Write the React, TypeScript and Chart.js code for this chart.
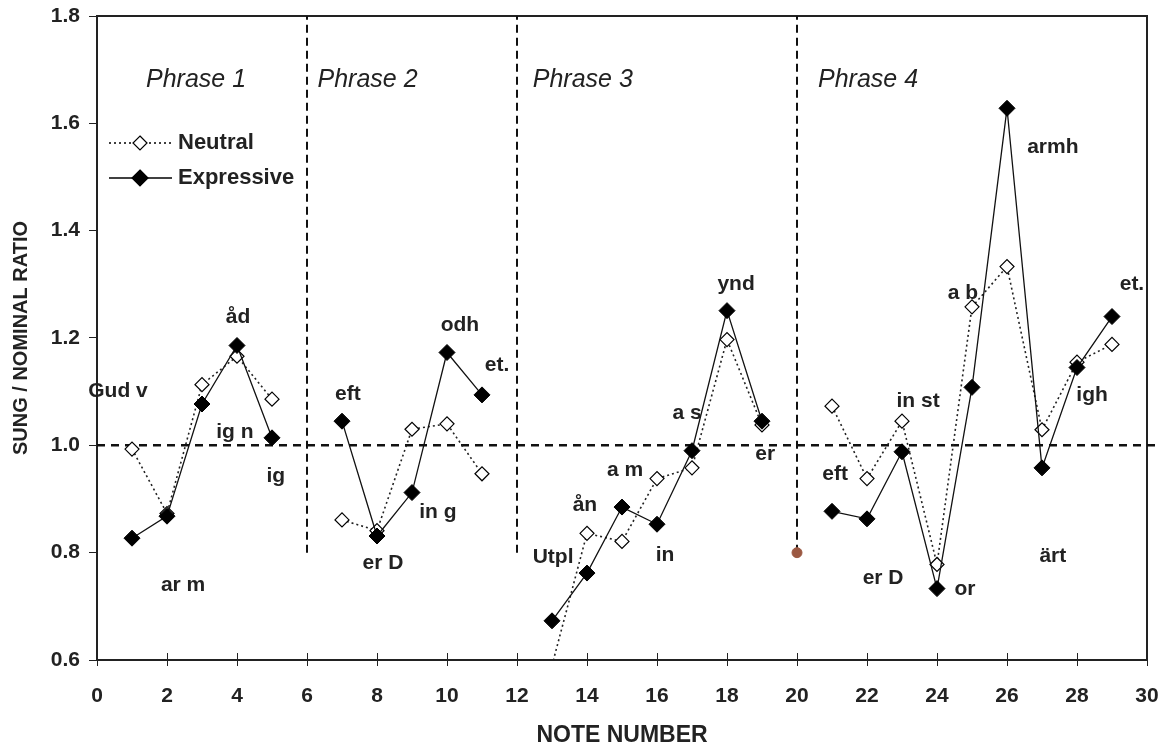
import React, { useEffect, useRef } from "react";
import { Chart, registerables } from "chart.js";

Chart.register(...registerables);

// ---------- data ----------
const noteNumbers = [
  1, 2, 3, 4, 5, 6, 7, 8, 9, 10, 11, 12, 13, 14, 15, 16, 17, 18, 19, 20, 21, 22, 23, 24, 25, 26, 27, 28, 29,
];
const neutral: (number | null)[] = [
  0.993, 0.873, 1.113, 1.166, 1.086, null, 0.861, 0.841, 1.03, 1.04, 0.947, null, 0.59, 0.836, 0.821, 0.938,
  0.958, 1.197, 1.038, null, 1.073, 0.938, 1.045, 0.778, 1.258, 1.333, 1.029, 1.155, 1.188,
];
const expressive: (number | null)[] = [
  0.827, 0.868, 1.077, 1.186, 1.014, null, 1.045, 0.831, 0.912, 1.173, 1.094, null, 0.673, 0.762, 0.885, 0.853,
  0.99, 1.251, 1.045, null, 0.877, 0.863, 0.988, 0.733, 1.108, 1.628, 0.958, 1.145, 1.24,
];
const phraseBoundaries = [6, 12, 20];
const boundaryRange = [0.8, 1.8];
const referenceRatio = 1.0;
const referenceSpan = [0, 30.35];
const phraseNames = ["Phrase 1", "Phrase 2", "Phrase 3", "Phrase 4"];
const phraseLabelX = [1.4, 6.3, 12.45, 20.6];
const phraseLabelY = 1.68;
const syllableText = [
  "Gud v", "ar m", "ig n", "åd", "ig",
  "eft", "er D", "in g", "odh", "et.",
  "Utpl", "ån", "a m", "in", "a s", "ynd", "er",
  "eft", "er D", "in st", "or", "a b", "armh", "ärt", "igh", "et.",
];
const syllableX = [
  0.6, 2.46, 3.94, 4.03, 5.11,
  7.17, 8.17, 9.74, 10.37, 11.43,
  13.03, 13.94, 15.09, 16.23, 16.86, 18.26, 19.09,
  21.09, 22.46, 23.46, 24.8, 24.74, 27.31, 27.31, 28.43, 29.57,
];
const syllableY = [
  1.1, 0.74, 1.025, 1.238, 0.943,
  1.096, 0.78, 0.876, 1.223, 1.149,
  0.792, 0.889, 0.954, 0.796, 1.059, 1.3, 0.983,
  0.947, 0.753, 1.083, 0.732, 1.283, 1.555, 0.794, 1.094, 1.3,
];
const yTicks = { min: 0.6, max: 1.8, step: 0.2 };
const xTicks = { min: 0, max: 30, step: 2 };

const FONT = '"Liberation Sans", Arial, Helvetica, sans-serif';

const overlayPlugin = {
  id: "overlay",
  afterDraw(chart: any) {
    const { ctx, chartArea, scales } = chart;
    const xs = scales.x;
    const ys = scales.y;
    ctx.save();
    // x tick marks crossing the axis
    ctx.strokeStyle = "#222";
    ctx.lineWidth = 1;
    xs.ticks.forEach((t: any) => {
      const px = Math.round(xs.getPixelForValue(t.value)) + 0.5;
      ctx.beginPath();
      ctx.moveTo(px, chartArea.bottom - 7);
      ctx.lineTo(px, chartArea.bottom + 6);
      ctx.stroke();
    });
    // phrase labels
    ctx.fillStyle = "#222";
    ctx.font = `italic 25px ${FONT}`;
    ctx.textAlign = "left";
    ctx.textBaseline = "middle";
    phraseNames.forEach((name, i) => {
      ctx.fillText(name, xs.getPixelForValue(phraseLabelX[i]), ys.getPixelForValue(phraseLabelY));
    });
    // syllable labels
    ctx.font = `bold 21px ${FONT}`;
    ctx.textAlign = "center";
    syllableText.forEach((s, i) => {
      ctx.fillText(s, xs.getPixelForValue(syllableX[i]), ys.getPixelForValue(syllableY[i]));
    });
    // legend
    const lx = chartArea.left + 12;
    const rows = [
      { label: "Neutral", y: 143, dash: [2, 3], fill: "#fff", r: 7 },
      { label: "Expressive", y: 178, dash: [], fill: "#000", r: 8 },
    ];
    rows.forEach((row) => {
      ctx.strokeStyle = "#000";
      ctx.lineWidth = 1.5;
      ctx.setLineDash(row.dash);
      ctx.beginPath();
      ctx.moveTo(lx, row.y);
      ctx.lineTo(lx + 63, row.y);
      ctx.stroke();
      ctx.setLineDash([]);
      const cx = lx + 31;
      ctx.beginPath();
      ctx.moveTo(cx, row.y - row.r);
      ctx.lineTo(cx + row.r, row.y);
      ctx.lineTo(cx, row.y + row.r);
      ctx.lineTo(cx - row.r, row.y);
      ctx.closePath();
      ctx.fillStyle = row.fill;
      ctx.fill();
      ctx.lineWidth = 1.2;
      ctx.stroke();
      ctx.fillStyle = "#222";
      ctx.font = `bold 22px ${FONT}`;
      ctx.textAlign = "left";
      ctx.fillText(row.label, lx + 69, row.y);
    });
    ctx.restore();
  },
};

const noPad = (s: any) => {
  s.paddingLeft = 0;
  s.paddingRight = 0;
  s.paddingTop = 0;
  s.paddingBottom = 0;
};

export default function App() {
  const ref = useRef<HTMLCanvasElement>(null);
  useEffect(() => {
    const canvas = ref.current;
    if (!canvas) return;
    const pts = (vals: (number | null)[]) => noteNumbers.map((n, i) => ({ x: n, y: vals[i] }));
    const datasets: any[] = [
      {
        label: "Expressive",
        data: pts(expressive),
        borderColor: "#111",
        borderWidth: 1.3,
        pointStyle: "rectRot",
        pointRadius: 8,
        pointBackgroundColor: "#000",
        pointBorderColor: "#000",
        pointBorderWidth: 1,
        spanGaps: false,
        order: 0,
      },
      {
        label: "Neutral",
        data: pts(neutral),
        borderColor: "#222",
        borderWidth: 1.6,
        borderDash: [2, 3],
        pointStyle: "rectRot",
        pointRadius: (c: any) => (c.raw && c.raw.y < yTicks.min ? 0 : 7),
        pointBackgroundColor: "#fff",
        pointBorderColor: "#000",
        pointBorderWidth: 1.2,
        spanGaps: false,
        order: 1,
      },
      {
        label: "ref",
        data: referenceSpan.map((x) => ({ x, y: referenceRatio })),
        borderColor: "#111",
        borderWidth: 2.5,
        borderDash: [8, 6],
        pointRadius: 0,
        clip: false,
        order: 3,
      },
      ...phraseBoundaries.map((b) => ({
        label: "boundary",
        data: boundaryRange.map((y) => ({ x: b, y })),
        borderColor: "#111",
        borderWidth: 2,
        borderDash: [8, 5],
        pointRadius: 0,
        order: 3,
      })),
      {
        label: "dot",
        data: [{ x: phraseBoundaries[2], y: boundaryRange[0] }],
        showLine: false,
        pointRadius: 5,
        pointBackgroundColor: "#9b5842",
        pointBorderColor: "#9b5842",
        order: 2,
      },
    ];
    const chart = new Chart(canvas, {
      type: "line",
      data: { datasets },
      plugins: [overlayPlugin],
      options: {
        animation: false,
        responsive: false,
        layout: { padding: { left: 0, right: 16, top: 16, bottom: 0 } },
        plugins: { legend: { display: false }, tooltip: { enabled: false } },
        scales: {
          x: {
            type: "linear",
            min: xTicks.min,
            max: xTicks.max,
            ticks: {
              stepSize: xTicks.step,
              padding: 24,
              color: "#222",
              font: { family: FONT, size: 21, weight: "bold" },
              maxRotation: 0,
            },
            grid: { drawOnChartArea: false, drawTicks: false },
            border: { color: "#222", width: 2 },
            title: {
              display: true,
              text: "NOTE NUMBER",
              color: "#222",
              font: { family: FONT, size: 23, weight: "bold" },
              padding: { top: 0, bottom: 0 },
            },
            afterFit: (s: any) => {
              s.height = 89;
              noPad(s);
            },
          },
          x2: {
            type: "linear",
            position: "top",
            min: xTicks.min,
            max: xTicks.max,
            ticks: { display: false },
            grid: { drawOnChartArea: false, drawTicks: false },
            border: { color: "#222", width: 2 },
            afterFit: (s: any) => {
              s.height = 0;
              noPad(s);
            },
          },
          y: {
            type: "linear",
            min: yTicks.min,
            max: yTicks.max,
            ticks: {
              stepSize: yTicks.step,
              padding: 9,
              color: "#222",
              font: { family: FONT, size: 21, weight: "bold" },
              callback: (v: any) => Number(v).toFixed(1),
            },
            grid: { drawOnChartArea: false, drawTicks: true, tickLength: 8, color: "#222" },
            border: { color: "#222", width: 2 },
            title: {
              display: true,
              text: "SUNG / NOMINAL RATIO",
              color: "#222",
              font: { family: FONT, size: 20, weight: "bold" },
              padding: { top: 9, bottom: 0 },
            },
            afterFit: (s: any) => {
              s.width = 97;
              noPad(s);
            },
          },
          y2: {
            type: "linear",
            position: "right",
            min: yTicks.min,
            max: yTicks.max,
            ticks: { display: false },
            grid: { drawOnChartArea: false, drawTicks: false },
            border: { color: "#222", width: 2 },
            afterFit: (s: any) => {
              s.width = 0;
              noPad(s);
            },
          },
        },
      } as any,
    });
    return () => chart.destroy();
  }, []);
  return (
    <div style={{ position: "fixed", left: 0, top: 0, width: 1163, height: 749, background: "#fff" }}>
      <canvas ref={ref} width={1163} height={749} style={{ display: "block" }} />
    </div>
  );
}
